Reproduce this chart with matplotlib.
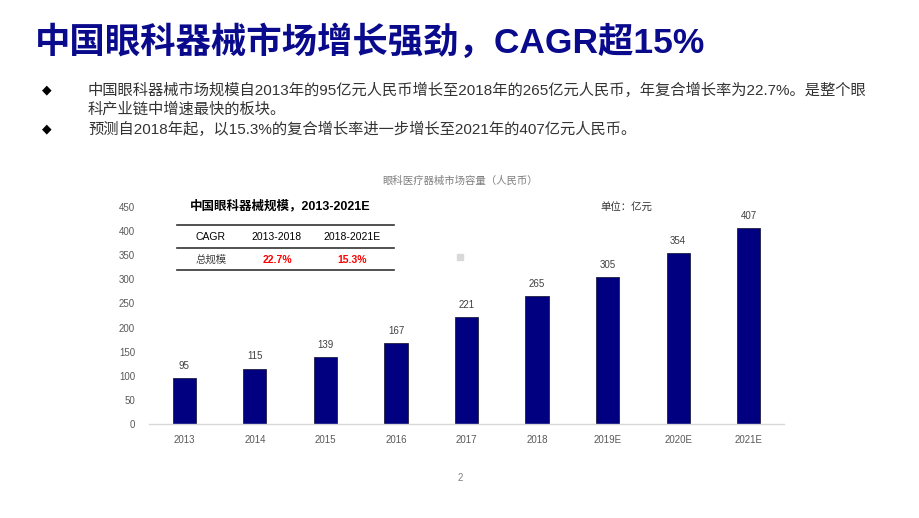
#! /usr/bin/env python3
import matplotlib
matplotlib.use('Agg')
import matplotlib.pyplot as plt
from matplotlib.patches import Rectangle

#Latin glyphs in Arial-like face, CJK falls through to Noto
plt.rcParams['font.family'] = ['Liberation Sans', 'Noto Sans CJK SC', 'DejaVu Sans']

#Data
years = ['2013', '2014', '2015', '2016', '2017', '2018', '2019E', '2020E', '2021E']
market = [95, 115, 139, 167, 221, 265, 305, 354, 407]
cagrHeader = ['CAGR', '2013-2018', '2018-2021E']
cagrRow = ['总规模', '22.7%', '15.3%']

W, H = 920, 518

def fx(x):
    return x / W

def fy(y):
    return 1 - y / H

fig = plt.figure(figsize=(9.2, 5.18), dpi=100)
fig.patch.set_facecolor('white')

#Slide title
fig.text(fx(35), fy(42), '中国眼科器械市场增长强劲，CAGR超15%', fontsize=25.5, fontweight='bold',
         color='#0A0A8C', va='center', ha='left')

#Bullets
bullets = [(90, '中国眼科器械市场规模自2013年的95亿元人民币增长至2018年的265亿元人民币，年复合增长率为22.7%。是整个眼'),
           (129, '预测自2018年起，以15.3%的复合增长率进一步增长至2021年的407亿元人民币。')]
fig.text(fx(88), fy(109), '科产业链中增速最快的板块。', fontsize=11, color='#333333', va='center')
for y, txt in bullets:
    fig.text(fx(42), fy(y), '◆', fontsize=9, color='black', va='center', family=['DejaVu Sans'])
    fig.text(fx(88), fy(y), txt, fontsize=11, color='#333333', va='center')

#Chart
ax = fig.add_axes([fx(149), fy(424), fx(784) - fx(149), fy(207) - fy(424)])
x = range(len(years))
bars = ax.bar(x, market, width=0.33, color='#000080', edgecolor='#202040', linewidth=0.6)
for xi, v in zip(x, market):
    ax.text(xi, v + 15, str(v), ha='center', va='bottom', fontsize=7, color='#404040')
ax.set_xlim(-0.5, len(years) - 0.5)
ax.set_ylim(0, 450)
ax.set_yticks(range(0, 451, 50))
ax.set_xticks(list(x))
ax.set_xticklabels(years)
ax.tick_params(axis='both', length=0, labelsize=7, labelcolor='#595959')
ax.tick_params(axis='x', pad=8)
ax.tick_params(axis='y', pad=10)
for s in ['top', 'right', 'left']:
    ax.spines[s].set_visible(False)
ax.spines['bottom'].set_color('#d9d9d9')
ax.spines['bottom'].set_linewidth(1)

fig.text(fx(460), fy(181), '眼科医疗器械市场容量（人民币）', fontsize=7.5, color='#7f7f7f', ha='center', va='center')
fig.text(fx(600), fy(208), '单位：亿元', fontsize=7.5, color='#333333', ha='left', va='center')

#Inset table
fig.text(fx(190), fy(206), '中国眼科器械规模，2013-2021E', fontsize=9, fontweight='bold', color='black', va='center')
for y in (225, 248, 270):
    fig.add_artist(plt.Line2D([fx(177), fx(394)], [fy(y), fy(y)], color='#333333', linewidth=1.2))
colX = [211, 277, 352]
for cx, t in zip(colX, cagrHeader):
    fig.text(fx(cx), fy(237), t, fontsize=7.5, color='black', ha='center', va='center')
for i, (cx, t) in enumerate(zip(colX, cagrRow)):
    if i == 0:
        fig.text(fx(cx), fy(260), t, fontsize=7.5, color='#404040', ha='center', va='center')
    else:
        fig.text(fx(cx), fy(260), t, fontsize=7.5, color='#FF0000', fontweight='bold', ha='center', va='center')

#small marker
fig.add_artist(Rectangle((fx(457), fy(260)), fx(6), fy(254) - fy(260), color='#d9d9d9', transform=fig.transFigure))

#Page number
fig.text(fx(460), fy(478), '2', fontsize=7, color='#7f7f7f', ha='center', va='center')

fig.savefig('out.png', dpi=100)
